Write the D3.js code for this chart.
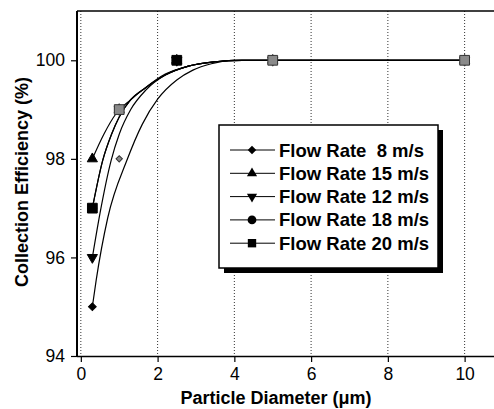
<!DOCTYPE html>
<html><head><meta charset="utf-8">
<script src="https://cdn.jsdelivr.net/npm/d3@7"></script>
<style>body{margin:0;background:#fff}svg{display:block}</style>
</head><body>
<script>
// ---- data ----
const seriesNames = ["Flow Rate  8 m/s", "Flow Rate 15 m/s", "Flow Rate 12 m/s", "Flow Rate 18 m/s", "Flow Rate 20 m/s"];
const seriesSymbols = ["diamond", "triangle", "triangleDown", "circle", "square"];
const diameters = [0.3, 1, 2.5, 5, 10];
const eff8  = [95, 98, 100, 100, 100];
const eff15 = [98, 99, 100, 100, 100];
const eff12 = [96, 99, 100, 100, 100];
const eff18 = [97, 99, 100, 100, 100];
const eff20 = [97, 99, 100, 100, 100];
// fitted curves: [diameter, efficiency]
const fit8  = [[0.3,95],[0.4,95.54],[0.7,96.8],[1.2,97.97],[1.6,98.7],[2.01,99.22],[2.5,99.6],[2.92,99.8],[3.4,99.93],[3.97,100],[10,100]];
const fit15 = [[0.3,98],[0.6,98.5],[0.92,98.92],[1.3,99.2],[1.66,99.43],[2.2,99.72],[2.8,99.88],[3.5,99.97],[4.2,100],[10,100]];
const fit12 = [[0.3,96],[0.5,96.9],[0.79,97.97],[1.0,98.5],[1.3,99.0],[1.7,99.4],[2.2,99.7],[2.8,99.88],[3.5,99.97],[4.2,100],[10,100]];
const fit18 = [[0.3,97],[0.57,97.97],[0.8,98.5],[1.0,98.85],[1.3,99.2],[1.7,99.45],[2.2,99.7],[2.8,99.88],[3.5,99.97],[4.2,100],[10,100]];
const fit20 = [[0.3,97],[0.57,97.97],[0.8,98.5],[1.0,98.85],[1.3,99.2],[1.7,99.45],[2.2,99.7],[2.8,99.88],[3.5,99.97],[4.2,100],[10,100]];
const xTicks = [0, 2, 4, 6, 8, 10];
const yTicks = [94, 96, 98, 100];

const values = [eff8, eff15, eff12, eff18, eff20];
const fits = [fit8, fit15, fit12, fit18, fit20];

const W = 494, H = 409;
const L = 77, T = 11, B = 356, R = 494;
const svg = d3.select("body").append("svg").attr("width", W).attr("height", H);
const x = d3.scaleLinear().domain([-0.1, 11]).range([L, 503]);
const y = d3.scaleLinear().domain([94, 101]).range([B, T]);

svg.append("defs").append("clipPath").attr("id", "clip")
  .append("rect").attr("x", L).attr("y", T).attr("width", R - L).attr("height", B - T);

// gridlines
svg.append("g").selectAll("line").data(xTicks).join("line")
  .attr("x1", d => x(d)).attr("x2", d => x(d)).attr("y1", T).attr("y2", B)
  .attr("stroke", "#333").attr("stroke-width", 1).attr("stroke-dasharray", "1,2");

// curves
const line = d3.line().x(d => x(d[0])).y(d => y(d[1])).curve(d3.curveMonotoneX);
svg.append("g").attr("clip-path", "url(#clip)").selectAll("path").data(fits).join("path")
  .attr("d", line).attr("fill", "none").attr("stroke", "#000").attr("stroke-width", 1.2);

// symbols
function sym(type, size) {
  const m = {diamond: d3.symbolSquare, triangle: d3.symbolTriangle, triangleDown: d3.symbolTriangle,
             circle: d3.symbolCircle, square: d3.symbolSquare};
  return d3.symbol().type(m[type]).size(size)();
}
function rot(type) {
  return type === "triangleDown" ? " rotate(180)" : type === "diamond" ? " rotate(45)" : "";
}
const sizes = {diamond: 30, triangle: 45, triangleDown: 45, circle: 60, square: 95};
const grayX = [1, 5, 10];
values.forEach((vals, si) => {
  const t = seriesSymbols[si];
  svg.append("g").selectAll("path").data(diameters.map((d, i) => [d, vals[i]])).join("path")
    .attr("d", d => sym(t, (t === "diamond" && d[0] === 1) ? 20 : sizes[t]))
    .attr("transform", d => `translate(${x(d[0])},${y(d[1])})` + rot(t))
    .attr("fill", d => grayX.includes(d[0]) ? "#8a8a8a" : "#000")
    .attr("stroke", d => grayX.includes(d[0]) ? "#333" : "#000")
    .attr("stroke-width", 1);
});

// frame
svg.append("line").attr("x1", L).attr("x2", R).attr("y1", T).attr("y2", T).attr("stroke", "#000").attr("stroke-width", 1.5);

// axes
const font = "'Liberation Sans', Arial, sans-serif";
const gx = svg.append("g").attr("transform", `translate(0,${B})`)
  .call(d3.axisBottom(x).tickValues(xTicks).tickFormat(d3.format("d")).tickSize(6).tickPadding(6).tickSizeOuter(0));
gx.select(".domain").attr("d", `M${L},0.5H${R}`).attr("stroke-width", 1.5);
const gy = svg.append("g").attr("transform", `translate(${L},0)`)
  .call(d3.axisLeft(y).tickValues(yTicks).tickFormat(d3.format("d")).tickSize(6).tickPadding(6).tickSizeOuter(0));
gy.select(".domain").attr("d", `M0,${T}V${B}`).attr("stroke-width", 2);
[gx, gy].forEach(g => {
  g.selectAll("text").attr("font-family", font).attr("font-size", 17.5).attr("fill", "#000");
  g.selectAll(".tick line").attr("stroke-width", 1.2);
});

// axis titles
svg.append("text").attr("x", 276).attr("y", 398).attr("text-anchor", "middle").attr("dominant-baseline", "central")
  .attr("font-family", font).attr("font-size", 18).attr("font-weight", "bold").text("Particle Diameter (\u03bcm)");
svg.append("text").attr("transform", "translate(22,182) rotate(-90)").attr("text-anchor", "middle")
  .attr("dominant-baseline", "central").attr("font-family", font).attr("font-size", 18).attr("font-weight", "bold")
  .text("Collection Efficiency (%)");

// legend
const lg = svg.append("g");
lg.append("rect").attr("x", 224).attr("y", 130).attr("width", 219).attr("height", 143).attr("fill", "#000");
lg.append("rect").attr("x", 219).attr("y", 125).attr("width", 219).attr("height", 143)
  .attr("fill", "#fff").attr("stroke", "#000").attr("stroke-width", 1.5);
seriesNames.forEach((name, i) => {
  const yy = 150 + i * 23.3;
  const t = seriesSymbols[i];
  lg.append("line").attr("x1", 230).attr("x2", 275).attr("y1", yy).attr("y2", yy).attr("stroke", "#000").attr("stroke-width", 1);
  lg.append("path").attr("d", sym(t, t === "square" ? 70 : t === "circle" ? 60 : t === "diamond" ? 36 : 45))
    .attr("transform", `translate(252,${yy})` + rot(t)).attr("fill", "#000");
  lg.append("text").attr("x", 279).attr("y", yy).attr("dominant-baseline", "central")
    .attr("font-family", font).attr("font-size", 18.5).attr("font-weight", "bold")
    .style("white-space", "pre").attr("xml:space", "preserve").text(name);
});
</script>
</body></html>
